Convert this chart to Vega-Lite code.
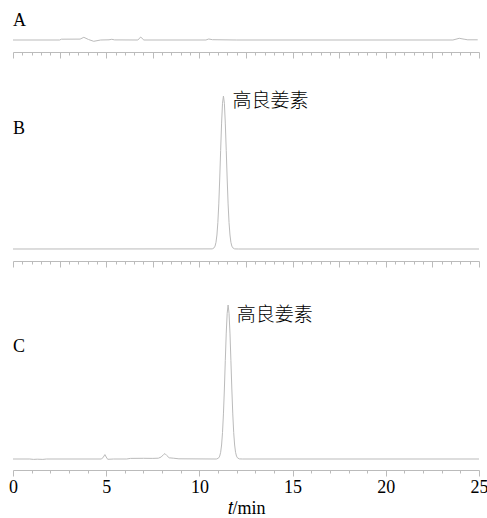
{
  "$schema": "https://vega.github.io/schema/vega-lite/v6.json",
  "background": "white",
  "padding": {"left": 8, "top": 5, "right": 0, "bottom": 0},
  "spacing": 0,
  "config": {
    "view": {"stroke": null},
    "axis": {
      "grid": false,
      "domainColor": "#bbbbbb",
      "tickColor": "#bbbbbb",
      "labelFont": "Liberation Serif",
      "labelFontSize": 18,
      "labelColor": "black",
      "labelFlush": false,
      "labelOverlap": false,
      "titleFont": "Liberation Serif",
      "titleFontSize": 18,
      "titleFontWeight": "normal",
      "titleColor": "black"
    }
  },
  "datasets": {
    "A": [
      {"t": 0, "v": 0}, {"t": 2.5, "v": 0}, {"t": 2.6, "v": 0.8}, {"t": 3.6, "v": 0.9},
      {"t": 3.8, "v": 2.7}, {"t": 4.05, "v": 0.5}, {"t": 4.33, "v": -1.3}, {"t": 4.7, "v": 0},
      {"t": 5.15, "v": 0.2}, {"t": 5.3, "v": 0.7}, {"t": 5.45, "v": 0.1}, {"t": 6.7, "v": 0},
      {"t": 6.85, "v": 3}, {"t": 7.02, "v": 0}, {"t": 10.35, "v": 0}, {"t": 10.5, "v": 1},
      {"t": 10.7, "v": 0.3}, {"t": 12, "v": 0}, {"t": 23.6, "v": 0}, {"t": 23.94, "v": 1.7},
      {"t": 24.2, "v": 0.8}, {"t": 24.4, "v": 0.2}, {"t": 24.93, "v": 0.2}
    ],
    "B": [
      {"t": 0, "v": 0}, {"t": 10.69, "v": 0.1}, {"t": 10.79, "v": 1.2}, {"t": 10.84, "v": 2.9},
      {"t": 10.89, "v": 6.7}, {"t": 10.94, "v": 14.0}, {"t": 10.99, "v": 26.4}, {"t": 11.04, "v": 45.1},
      {"t": 11.09, "v": 70.0}, {"t": 11.14, "v": 98.6}, {"t": 11.19, "v": 125.9}, {"t": 11.24, "v": 145.7},
      {"t": 11.29, "v": 153}, {"t": 11.34, "v": 145.7}, {"t": 11.39, "v": 125.9}, {"t": 11.44, "v": 98.6},
      {"t": 11.49, "v": 70.0}, {"t": 11.54, "v": 45.1}, {"t": 11.59, "v": 26.4}, {"t": 11.64, "v": 14.0},
      {"t": 11.69, "v": 6.7}, {"t": 11.74, "v": 2.9}, {"t": 11.79, "v": 1.2}, {"t": 11.89, "v": 0.1},
      {"t": 12.1, "v": 0}, {"t": 25, "v": 0}
    ],
    "C": [
      {"t": 0, "v": 0}, {"t": 0.9, "v": 0}, {"t": 1.1, "v": -0.4}, {"t": 1.3, "v": -0.2},
      {"t": 1.6, "v": -0.4}, {"t": 1.8, "v": 0}, {"t": 4.75, "v": 0}, {"t": 4.85, "v": 2},
      {"t": 4.93, "v": 4.4}, {"t": 5.0, "v": 2}, {"t": 5.08, "v": -0.3}, {"t": 5.4, "v": 0},
      {"t": 6.1, "v": 0}, {"t": 6.3, "v": 0.6}, {"t": 7.0, "v": 0.7}, {"t": 7.5, "v": 0.6},
      {"t": 7.8, "v": 0.8}, {"t": 7.95, "v": 2}, {"t": 8.08, "v": 4.5}, {"t": 8.15, "v": 5.4},
      {"t": 8.25, "v": 3.5}, {"t": 8.38, "v": 1.2}, {"t": 8.6, "v": 0.8}, {"t": 8.9, "v": 0.2},
      {"t": 10.9, "v": 0}, {"t": 10.94, "v": 0.1}, {"t": 11.04, "v": 1.2}, {"t": 11.09, "v": 2.9},
      {"t": 11.14, "v": 6.7}, {"t": 11.19, "v": 14.0}, {"t": 11.24, "v": 26.4}, {"t": 11.29, "v": 45.1},
      {"t": 11.34, "v": 70.0}, {"t": 11.39, "v": 98.6}, {"t": 11.44, "v": 125.9}, {"t": 11.49, "v": 145.7},
      {"t": 11.54, "v": 154}, {"t": 11.59, "v": 145.7}, {"t": 11.64, "v": 125.9}, {"t": 11.69, "v": 98.6},
      {"t": 11.74, "v": 70.0}, {"t": 11.79, "v": 45.1}, {"t": 11.84, "v": 26.4}, {"t": 11.89, "v": 14.0},
      {"t": 11.94, "v": 6.7}, {"t": 11.99, "v": 2.9}, {"t": 12.04, "v": 1.2}, {"t": 12.14, "v": 0.1},
      {"t": 12.3, "v": 0}, {"t": 25, "v": 0}
    ],
    "letters": [
      {"panel": "A", "t": 0, "v": 19, "label": "A"},
      {"panel": "B", "t": 0, "v": 120, "label": "B"},
      {"panel": "C", "t": 0, "v": 112, "label": "C"}
    ],
    "names": [
      {"panel": "B", "t": 11.77, "v": 148, "label": "高良姜素"},
      {"panel": "C", "t": 12.0, "v": 144.5, "label": "高良姜素"}
    ]
  },
  "vconcat": [
    {
      "width": 466,
      "height": 47,
      "encoding": {
        "x": {"field": "t", "type": "quantitative", "scale": {"domain": [0, 25], "nice": false},
          "axis": {"values": [0,0.5,1,1.5,2,2.5,3,3.5,4,4.5,5,5.5,6,6.5,7,7.5,8,8.5,9,9.5,10,10.5,11,11.5,12,12.5,13,13.5,14,14.5,15,15.5,16,16.5,17,17.5,18,18.5,19,19.5,20,20.5,21,21.5,22,22.5,23,23.5,24,24.5,25],
            "tickSize": {"condition": {"test": "datum.value % 2.5 === 0", "value": 6}, "value": 3},
            "labels": false, "title": null}}
      },
      "layer": [
        {
          "data": {"name": "A"},
          "mark": {"type": "line", "color": "#bbbbbb", "strokeWidth": 1},
          "encoding": {
            "y": {"field": "v", "type": "quantitative", "scale": {"domain": [-12, 35], "nice": false}, "axis": null}
          }
        },
        {
          "data": {"name": "letters"},
          "transform": [{"filter": "datum.panel === 'A'"}],
          "mark": {"type": "text", "align": "left", "baseline": "middle", "font": "Liberation Serif", "fontSize": 18, "color": "black"},
          "encoding": {
            "y": {"field": "v", "type": "quantitative", "axis": null},
            "text": {"field": "label"}
          }
        }
      ]
    },
    {
      "width": 466,
      "height": 202,
      "encoding": {
        "x": {"field": "t", "type": "quantitative", "scale": {"domain": [0, 25], "nice": false},
          "axis": {"values": [0,0.5,1,1.5,2,2.5,3,3.5,4,4.5,5,5.5,6,6.5,7,7.5,8,8.5,9,9.5,10,10.5,11,11.5,12,12.5,13,13.5,14,14.5,15,15.5,16,16.5,17,17.5,18,18.5,19,19.5,20,20.5,21,21.5,22,22.5,23,23.5,24,24.5,25],
            "tickSize": {"condition": {"test": "datum.value % 2.5 === 0", "value": 6}, "value": 3},
            "labels": false, "title": null}}
      },
      "layer": [
        {
          "data": {"name": "B"},
          "mark": {"type": "line", "color": "#bbbbbb", "strokeWidth": 1},
          "encoding": {
            "y": {"field": "v", "type": "quantitative", "scale": {"domain": [-12, 190], "nice": false}, "axis": null}
          }
        },
        {
          "data": {"name": "letters"},
          "transform": [{"filter": "datum.panel === 'B'"}],
          "mark": {"type": "text", "align": "left", "baseline": "middle", "font": "Liberation Serif", "fontSize": 18, "color": "black"},
          "encoding": {
            "y": {"field": "v", "type": "quantitative", "axis": null},
            "text": {"field": "label"}
          }
        },
        {
          "data": {"name": "names"},
          "transform": [{"filter": "datum.panel === 'B'"}],
          "mark": {"type": "text", "align": "left", "baseline": "middle", "font": "Noto Sans CJK SC", "fontWeight": 300, "fontSize": 19, "color": "black"},
          "encoding": {
            "y": {"field": "v", "type": "quantitative", "axis": null},
            "text": {"field": "label"}
          }
        }
      ]
    },
    {
      "width": 466,
      "height": 202,
      "encoding": {
        "x": {"field": "t", "type": "quantitative", "scale": {"domain": [0, 25], "nice": false},
          "axis": {"values": [0,0.5,1,1.5,2,2.5,3,3.5,4,4.5,5,5.5,6,6.5,7,7.5,8,8.5,9,9.5,10,10.5,11,11.5,12,12.5,13,13.5,14,14.5,15,15.5,16,16.5,17,17.5,18,18.5,19,19.5,20,20.5,21,21.5,22,22.5,23,23.5,24,24.5,25],
            "tickSize": {"condition": {"test": "datum.value % 2.5 === 0", "value": 6}, "value": 3},
            "format": "d",
            "labelExpr": "datum.value % 5 === 0 ? datum.label : ''",
            "labelPadding": 2,
            "title": "𝑡/min", "titlePadding": 3}}
      },
      "layer": [
        {
          "data": {"name": "C"},
          "mark": {"type": "line", "color": "#bbbbbb", "strokeWidth": 1},
          "encoding": {
            "y": {"field": "v", "type": "quantitative", "scale": {"domain": [-11, 191], "nice": false}, "axis": null}
          }
        },
        {
          "data": {"name": "letters"},
          "transform": [{"filter": "datum.panel === 'C'"}],
          "mark": {"type": "text", "align": "left", "baseline": "middle", "font": "Liberation Serif", "fontSize": 18, "color": "black"},
          "encoding": {
            "y": {"field": "v", "type": "quantitative", "axis": null},
            "text": {"field": "label"}
          }
        },
        {
          "data": {"name": "names"},
          "transform": [{"filter": "datum.panel === 'C'"}],
          "mark": {"type": "text", "align": "left", "baseline": "middle", "font": "Noto Sans CJK SC", "fontWeight": 300, "fontSize": 19, "color": "black"},
          "encoding": {
            "y": {"field": "v", "type": "quantitative", "axis": null},
            "text": {"field": "label"}
          }
        }
      ]
    }
  ]
}
